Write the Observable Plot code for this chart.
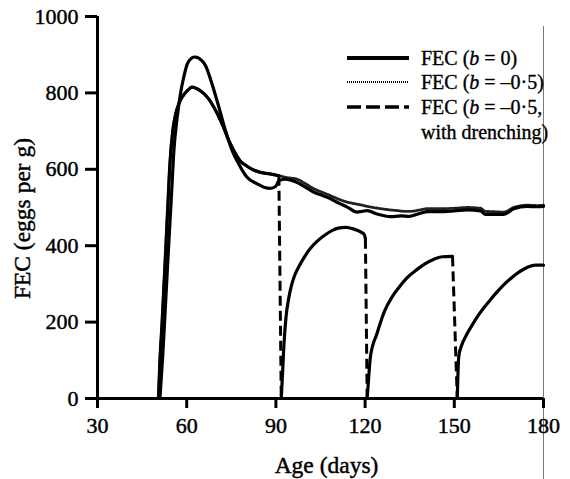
<!DOCTYPE html>
<html><head><meta charset="utf-8">
<script src="https://cdn.jsdelivr.net/npm/d3@7"></script>
<script src="https://cdn.jsdelivr.net/npm/@observablehq/plot@0.6"></script>
<style>
body{margin:0;background:#fff;}
#wrap{position:relative;width:570px;height:479px;font-family:"Liberation Serif",serif;color:#000;}
#wrap svg text{paint-order:stroke;stroke:#000;stroke-width:0.45px;}
.lg{position:absolute;font-size:20px;white-space:nowrap;-webkit-text-stroke:0.35px #000;}
.sw{position:absolute;}
</style></head>
<body><div id="wrap"></div>
<script>
// ---- data ----
const xTicks = [30, 60, 90, 120, 150, 180];
const yTicks = [0, 200, 400, 600, 800, 1000];

const b0Days = [51, 52, 53, 54, 55, 55.7, 56.8, 57.9, 59, 60.2, 61.5, 62.5, 63.5, 65, 66.3, 68.5, 70.8, 73, 75.3, 77.5, 80.3, 83.7, 86, 88.2, 90, 91, 93, 97, 100, 102.8, 105.5, 108.4, 111, 114, 117.3, 119, 120.7, 124, 128.5, 132, 135, 138.6, 141, 146.5, 150, 154.3, 158.8, 160.5, 163, 166.7, 170, 174.5, 178, 180];
const b0Fec  = [0, 120, 265, 410, 550, 650, 736, 798, 841, 876, 890, 894, 893, 885, 872, 824, 763, 702, 649, 614, 579, 562, 553, 550, 556, 570, 574, 566, 553, 540, 532, 523, 512, 501, 488, 490, 492, 483, 476, 478, 477, 485, 489, 489, 491, 494, 491, 482, 482, 482, 497, 503, 502, 503];

const b05Days = [50.5, 51, 51.7, 52.5, 53.5, 54.4, 55.3, 56.3, 57.5, 59, 60.5, 61.8, 63.5, 65.8, 67.5, 69.1, 71.9, 74.2, 76.4, 78, 80.3, 82.5, 84.8, 88, 91, 94, 97.1, 100, 102.8, 105.5, 108.4, 111, 114, 117, 119.6, 122, 125.2, 128, 130.8, 133, 135.3, 138.6, 141, 146.5, 150, 154.3, 158.8, 160.5, 163, 166.7, 170, 174.5, 178, 180];
const b05Fec  = [0, 100, 196, 320, 480, 620, 700, 745, 775, 795, 808, 815, 811, 798, 783, 763, 719, 675, 641, 622, 608, 598, 592, 588, 583, 578, 574, 562, 549, 540, 531, 522, 514, 509, 505, 501, 497, 494, 492, 490, 490, 494, 497, 497, 498, 500, 498, 490, 489, 488, 500, 506, 505, 506];

// drenching: identical to b = -0.5 until the first drench, then three recoveries
const firstDrench = 91;
const rec1Days = [91.8, 92.2, 92.7, 93.4, 94.3, 95.2, 96.3, 97.5, 99.4, 101.5, 103.9, 106.5, 109, 111, 113.5, 116, 118.5, 119.8, 120.1];
const rec1Fec  = [0, 60, 140, 213, 262, 295, 322, 342, 368, 392, 412, 428, 440, 446, 448, 444, 436, 428, 418];
const rec2Days = [120.7, 121.2, 121.8, 124, 126.5, 129, 131.5, 134, 137.5, 140, 143, 146, 149.4];
const rec2Fec  = [0, 55, 110, 170, 228, 265, 292, 315, 338, 352, 364, 371, 372];
const rec3Days = [151, 151.5, 152.5, 154, 156, 158, 160, 162.2, 164.4, 166.7, 169, 171.2, 173.5, 175.5, 177.5, 180];
const rec3Fec  = [0, 110, 140, 165, 192, 217, 238, 259, 279, 298, 314, 328, 339, 346, 349, 349];

// ---- build tables ----
const zip = (d, v) => d.map((x, i) => ({day: x, fec: v[i]}));
const b0 = zip(b0Days, b0Fec);
const b05 = zip(b05Days, b05Fec);
const pre = b05.filter(d => d.day <= firstDrench);
const recs = [zip(rec1Days, rec1Fec), zip(rec2Days, rec2Fec), zip(rec3Days, rec3Fec)];
const segs = [pre, ...recs];
const recData = recs.flatMap((s, i) => s.map(d => ({...d, seg: i})));
const drops = [];
for (let i = 0; i < segs.length - 1; i++) {
  const a = segs[i][segs[i].length - 1], b = segs[i + 1][0];
  drops.push({x1: a.day, y1: a.fec, x2: b.day, y2: b.fec});
}

const chart = Plot.plot({
  width: 570, height: 479,
  marginLeft: 97, marginRight: 27, marginTop: 16, marginBottom: 81,
  style: {fontFamily: "Liberation Serif, serif", fontSize: "22px", color: "#000", background: "#fff"},
  x: {domain: [30, 180]},
  y: {domain: [0, 1000]},
  marks: [
    Plot.ruleX([180], {stroke: "#777", strokeWidth: 1, insetTop: 10, insetBottom: -81}),
    Plot.axisX({ticks: xTicks, tickFormat: d => String(d), tickSize: 10, tickPadding: 9, strokeWidth: 3, label: null, fontSize: 22}),
    Plot.axisY({ticks: yTicks, tickFormat: d => String(d), tickSize: 12, tickPadding: 7, strokeWidth: 3, label: null, fontSize: 22}),
    Plot.ruleX([30], {strokeWidth: 3}),
    Plot.ruleY([0], {strokeWidth: 3}),
    Plot.line(b05, {x: "day", y: "fec", curve: "monotone-x", stroke: "#222", strokeWidth: 2.8, strokeDasharray: "1.3,1.3"}),
    Plot.line(b0, {x: "day", y: "fec", curve: "monotone-x", stroke: "#000", strokeWidth: 3.2}),
    Plot.line(pre, {x: "day", y: "fec", curve: "monotone-x", stroke: "#000", strokeWidth: 3.2}),
    Plot.line(recData, {x: "day", y: "fec", z: "seg", curve: "monotone-x", stroke: "#000", strokeWidth: 3.2}),
    Plot.link(drops, {x1: "x1", y1: "y1", x2: "x2", y2: "y2", stroke: "#000", strokeWidth: 3, strokeDasharray: "10,5"}),
    Plot.text(["FEC (eggs per g)"], {frameAnchor: "left", textAnchor: "middle", rotate: -90, dx: -75, dy: 11, fontSize: 23.5, lineAnchor: "middle"}),
    Plot.text(["Age (days)"], {frameAnchor: "bottom", textAnchor: "middle", dx: 6, dy: 67, fontSize: 23.5, lineAnchor: "middle"})
  ]
});

const wrap = document.getElementById("wrap");
wrap.appendChild(chart);

// ---- legend ----
const legendItems = [
  {label: "FEC (<i>b</i> = 0)", dash: null, w: 4, y: 58},
  {label: "FEC (<i>b</i> = –0·5)", dash: "1,1", w: 2.2, y: 82},
  {label: "FEC (<i>b</i> = –0·5,<br>with drenching)", dash: "14,5", w: 3.5, y: 107}
];
legendItems.forEach(it => {
  const sw = document.createElementNS("http://www.w3.org/2000/svg", "svg");
  sw.setAttribute("class", "sw");
  sw.setAttribute("width", 62); sw.setAttribute("height", 10);
  sw.style.left = "347px"; sw.style.top = (it.y - 5) + "px";
  const ln = document.createElementNS("http://www.w3.org/2000/svg", "line");
  ln.setAttribute("x1", 0); ln.setAttribute("x2", 62); ln.setAttribute("y1", 5); ln.setAttribute("y2", 5);
  ln.setAttribute("stroke", "#000"); ln.setAttribute("stroke-width", it.w);
  if (it.dash) ln.setAttribute("stroke-dasharray", it.dash);
  sw.appendChild(ln);
  wrap.appendChild(sw);
  const t = document.createElement("div");
  t.className = "lg";
  t.innerHTML = it.label;
  t.style.left = "421px"; t.style.top = (it.y - 12.5) + "px";
  t.style.lineHeight = "25px";
  wrap.appendChild(t);
});
</script></body></html>
